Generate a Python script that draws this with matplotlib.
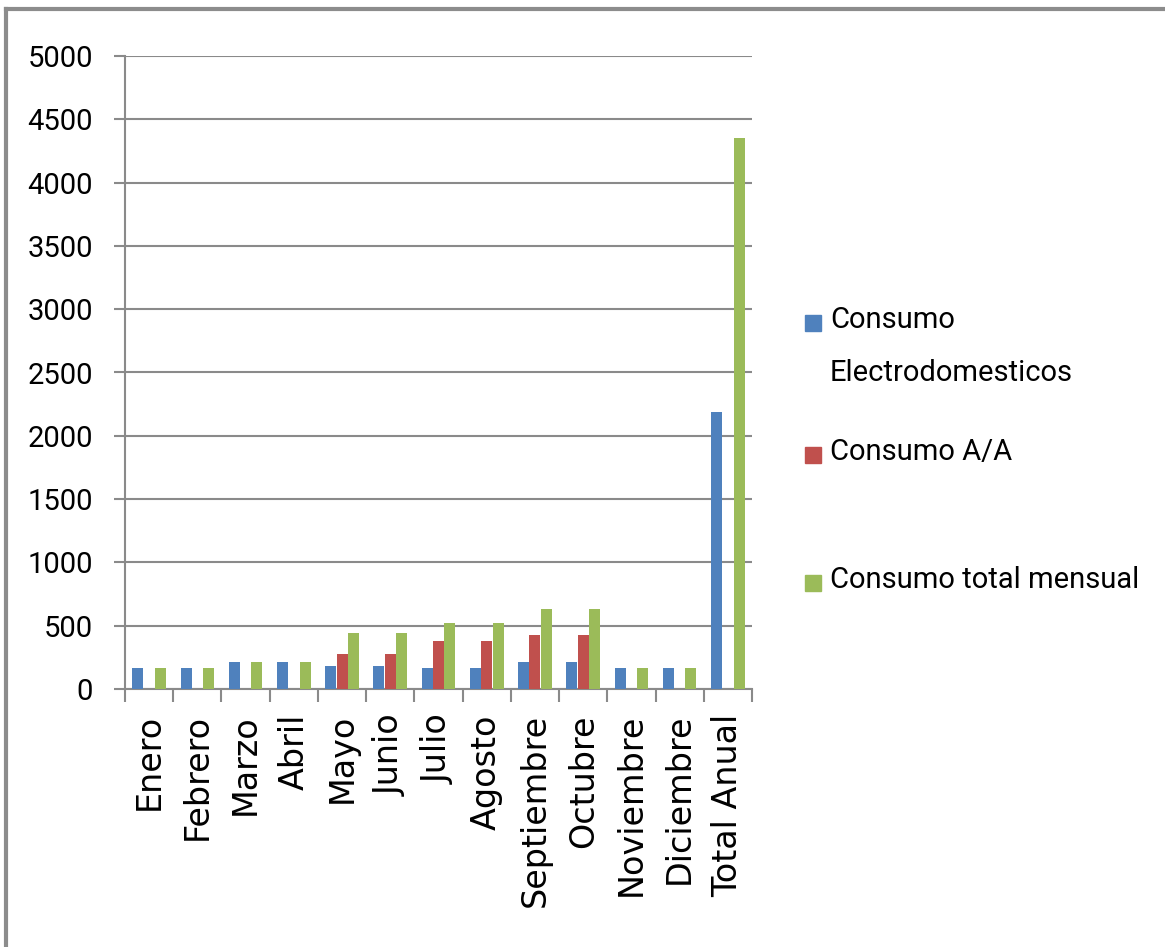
import matplotlib
matplotlib.use("Agg")
import matplotlib.pyplot as plt
import numpy as np
from matplotlib.lines import Line2D
from matplotlib.patches import Rectangle

categories = ["Enero", "Febrero", "Marzo", "Abril", "Mayo", "Junio", "Julio",
              "Agosto", "Septiembre", "Octubre", "Noviembre", "Diciembre", "Total Anual"]
electro = [163, 163, 215, 215, 181, 181, 163, 163, 215, 215, 163, 163, 2188]
aa = [0, 0, 0, 0, 280, 280, 376, 376, 428, 428, 0, 0, 0]
total = [163, 163, 215, 215, 443, 443, 521, 521, 635, 635, 163, 163, 4354]
series_names = ["Consumo\nElectrodomesticos", "Consumo A/A", "Consumo total mensual"]
colors = ["#4F81BD", "#C0504D", "#9BBB59"]
yticks = list(range(0, 5001, 500))

narrow = ["Roboto", "DejaVu Sans"]

fig = plt.figure(figsize=(11.65, 9.47), dpi=100)
ax = fig.add_axes([125/1165, 1-689/947, 627/1165, 633/947])

x = np.arange(len(categories))
bw = 0.228
off = 0.234
for i, (vals, c) in enumerate(zip([electro, aa, total], colors)):
    ax.bar(x + (i-1)*off, vals, width=bw, color=c, zorder=3)

gc = "#8A8A8A"
ax.set_xlim(-0.5, len(categories)-0.5)
ax.set_ylim(0, 5000)
ax.set_yticks(yticks)
ax.set_yticklabels([str(v) for v in yticks], family=narrow, fontsize=21)
ax.yaxis.grid(True, color=gc, linewidth=1.5, zorder=0)
ax.tick_params(axis="y", length=8, width=1.5, color=gc, pad=15, direction="out")

ax.set_xticks(x)
ax.set_xticklabels(categories, rotation=90, family="DejaVu Sans", fontsize=24)
ax.tick_params(axis="x", which="major", length=0, pad=18)
ax.set_xticks(np.arange(len(categories)+1)-0.5, minor=True)
ax.tick_params(axis="x", which="minor", length=9, width=1.5, color=gc, direction="out")

for s in ["top", "right"]:
    ax.spines[s].set_visible(False)
for s in ["left", "bottom"]:
    ax.spines[s].set_color(gc)
    ax.spines[s].set_linewidth(1.5)

# outer frame (left and top)
fig.add_artist(Line2D([6/1165, 6/1165], [0, 1-9/947], transform=fig.transFigure,
                      color="#8C8C8C", linewidth=3))
fig.add_artist(Line2D([6/1165, 1], [1-9/947, 1-9/947], transform=fig.transFigure,
                      color="#8C8C8C", linewidth=3))

# legend
leg_y = [323, 455, 583]
for name, c, yy in zip(series_names, colors, leg_y):
    fig.add_artist(Rectangle((805/1165, 1-(yy+8)/947), 16/1165, 16/947,
                             transform=fig.transFigure, color=c))
    fig.text(830/1165, 1-(yy-17)/947, name, family=narrow, fontsize=21,
             va="top", ha="left", linespacing=2.15)

fig.savefig("out.png", dpi=100)
